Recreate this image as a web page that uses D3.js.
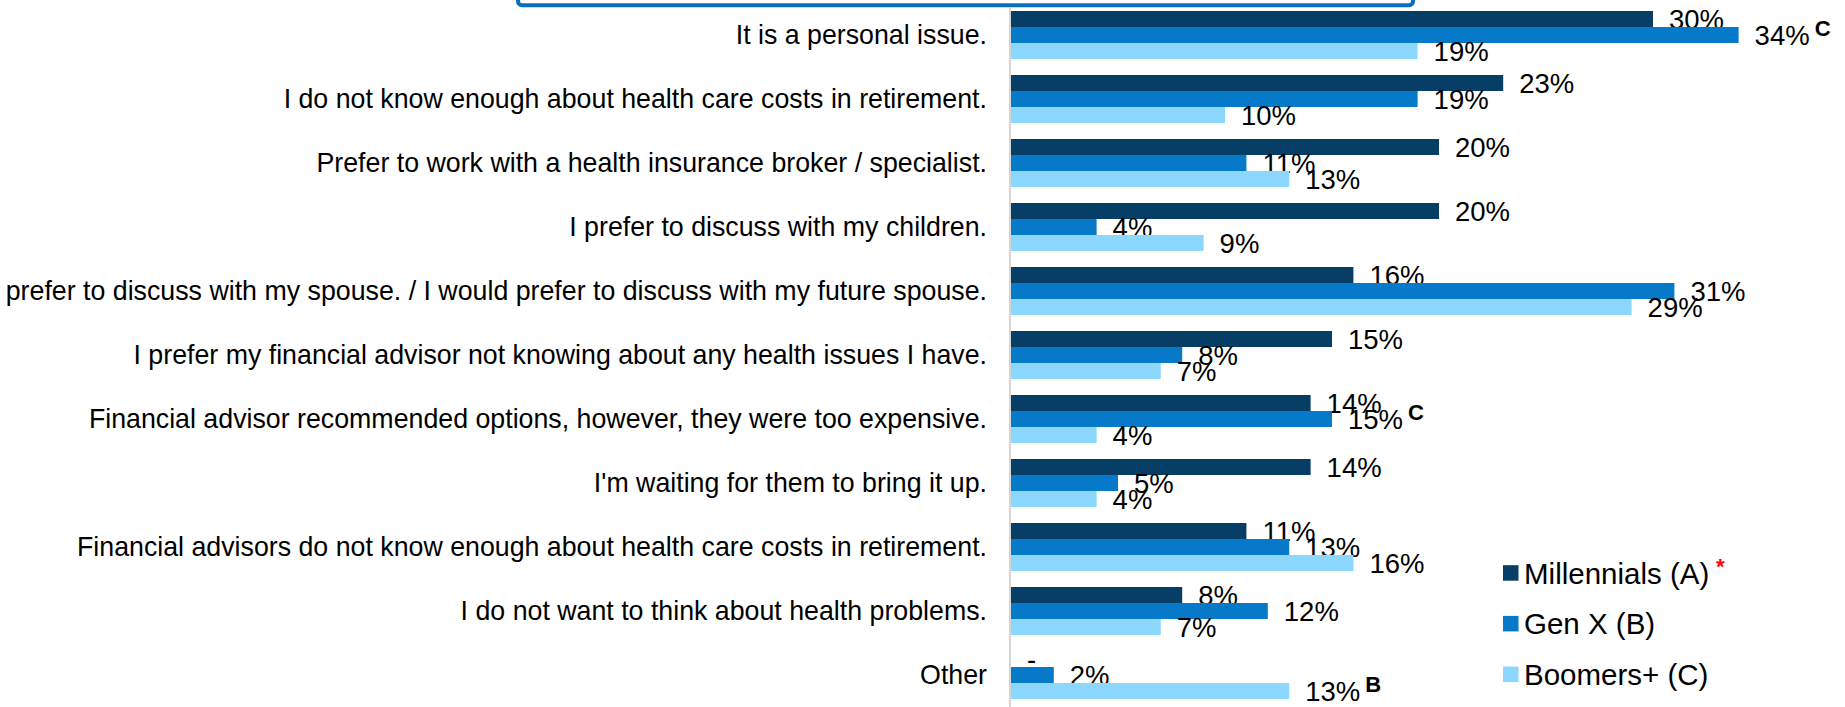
<!DOCTYPE html>
<html>
<head>
<meta charset="utf-8">
<script src="https://cdn.jsdelivr.net/npm/d3@7"></script>
<style>
  html, body { margin: 0; padding: 0; background: #fff; overflow: hidden; }
  svg { display: block; font-family: "Liberation Sans", Arial, sans-serif; }
</style>
</head>
<body>
<svg id="chart" width="1845" height="707"></svg>
<script>
// Reasons for not discussing health care costs with a financial advisor, by generation (%)
const categories = [
  "It is a personal issue.",
  "I do not know enough about health care costs in retirement.",
  "Prefer to work with a health insurance broker / specialist.",
  "I prefer to discuss with my children.",
  "I prefer to discuss with my spouse. / I would prefer to discuss with my future spouse.",
  "I prefer my financial advisor not knowing about any health issues I have.",
  "Financial advisor recommended options, however, they were too expensive.",
  "I'm waiting for them to bring it up.",
  "Financial advisors do not know enough about health care costs in retirement.",
  "I do not want to think about health problems.",
  "Other"
];
const seriesNames = ["Millennials (A)", "Gen X (B)", "Boomers+ (C)"];
const millennials = [30, 23, 20, 20, 16, 15, 14, 14, 11, 8, null];
const genX        = [34, 19, 11, 4, 31, 8, 15, 5, 13, 12, 2];
const boomers     = [19, 10, 13, 9, 29, 7, 4, 4, 16, 7, 13];
// significance letters shown beside a value
const sigMillennials = ["", "", "", "", "", "", "", "", "", "", ""];
const sigGenX        = ["C", "", "", "", "", "", "C", "", "", "", ""];
const sigBoomers     = ["", "", "", "", "", "", "", "", "", "", "B"];
const colors = ["#073e67", "#0779c9", "#8bd7fd"];

const seriesValues = [millennials, genX, boomers];
const seriesSig = [sigMillennials, sigGenX, sigBoomers];

const svg = d3.select("#chart");

const x = d3.scaleLinear().domain([0, 40]).range([1011, 1011 + 40 * 21.4]);
const y = d3.scaleBand().domain(categories).range([3, 707])
  .paddingInner(0.25).paddingOuter(0.125);
const ySub = d3.scaleBand().domain(seriesNames).range([0, y.bandwidth()]);

// header box edge at the top
svg.append("rect")
  .attr("x", 518).attr("y", -60).attr("width", 895).attr("height", 65.3)
  .attr("rx", 4).attr("fill", "#fff")
  .attr("stroke", "#0a6fbf").attr("stroke-width", 4);

// vertical axis line
svg.append("line")
  .attr("x1", x(0) - 1).attr("x2", x(0) - 1)
  .attr("y1", 8).attr("y2", 707)
  .attr("stroke", "#d6d6d6").attr("stroke-width", 2);

// category labels
svg.append("g").selectAll("text")
  .data(categories).join("text")
  .attr("x", 987)
  .attr("y", d => y(d) + y.bandwidth() / 2 + 9)
  .attr("text-anchor", "end")
  .attr("font-size", 26.75)
  .attr("fill", "#000")
  .text(d => d);

// bars and value labels
const groups = svg.append("g").selectAll("g")
  .data(categories).join("g")
  .attr("transform", d => `translate(0,${y(d)})`);

seriesNames.forEach((s, si) => {
  const vals = seriesValues[si];
  groups.append("rect")
    .attr("x", x(0))
    .attr("y", ySub(s))
    .attr("width", (d, i) => vals[i] == null ? 0 : x(vals[i]) - x(0))
    .attr("height", ySub.bandwidth())
    .attr("fill", colors[si]);

  const lbl = groups.append("text")
    .attr("x", (d, i) => x(vals[i] == null ? 0 : vals[i]) + 16)
    .attr("y", ySub(s) + ySub.bandwidth() / 2 + 10)
    .attr("font-size", 27.5)
    .attr("fill", "#000");
  lbl.append("tspan").text((d, i) => vals[i] == null ? "-" : vals[i] + "%");
  lbl.append("tspan")
    .attr("dx", 5).attr("dy", -9)
    .attr("font-size", 22).attr("font-weight", "bold")
    .text((d, i) => seriesSig[si][i]);
});

// legend
const legend = svg.append("g");
const legendItems = legend.selectAll("g")
  .data(seriesNames).join("g")
  .attr("transform", (d, i) => `translate(1503,${573 + i * 50.7})`);
legendItems.append("rect")
  .attr("x", 0).attr("y", -7.8).attr("width", 15.5).attr("height", 15.5)
  .attr("fill", (d, i) => colors[i]);
legendItems.append("text")
  .attr("x", 21).attr("y", 10.5)
  .attr("font-size", 29.5)
  .attr("fill", "#000")
  .text(d => d);
legend.append("text")
  .attr("x", 1716).attr("y", 574)
  .attr("font-size", 22).attr("font-weight", "bold")
  .attr("fill", "#ff0000")
  .text("*");
</script>
</body>
</html>
